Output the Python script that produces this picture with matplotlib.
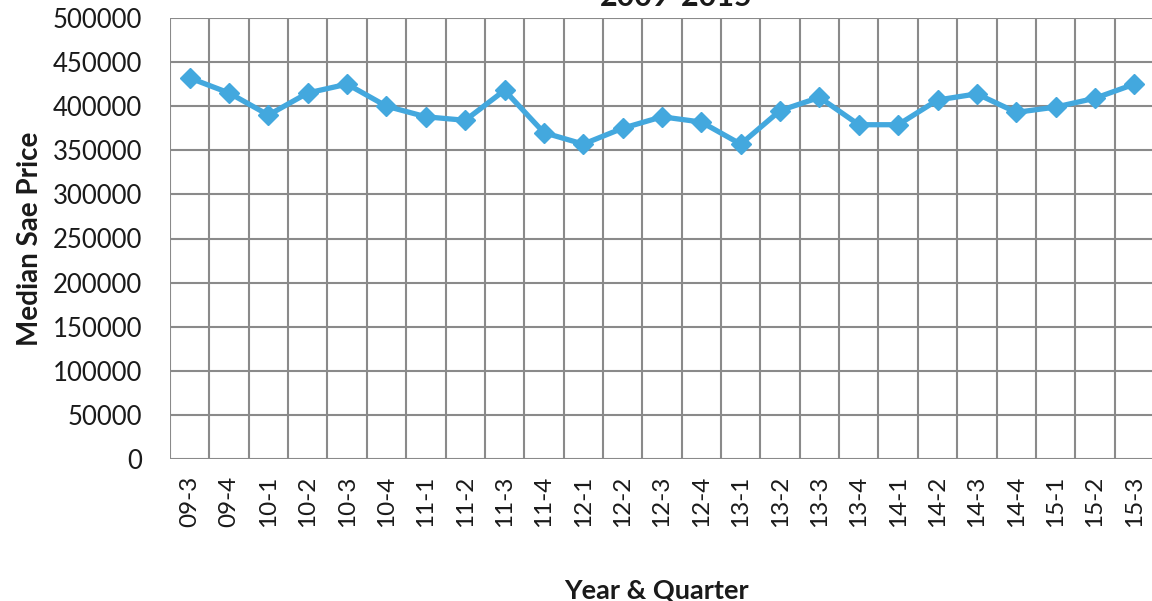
import matplotlib
matplotlib.use("Agg")
import matplotlib.pyplot as plt

# Median sale price by year and quarter
quarters = ["09-3", "09-4", "10-1", "10-2", "10-3", "10-4", "11-1", "11-2", "11-3",
            "11-4", "12-1", "12-2", "12-3", "12-4", "13-1", "13-2", "13-3", "13-4",
            "14-1", "14-2", "14-3", "14-4", "15-1", "15-2", "15-3"]
median_price = [432000, 415000, 390000, 415000, 425000, 400000, 388000, 384000, 418000,
                370000, 357000, 375000, 388000, 382000, 357000, 395000, 410000, 379000,
                379000, 407000, 414000, 393000, 399000, 409000, 425000]
y_ticks = [0, 50000, 100000, 150000, 200000, 250000, 300000, 350000, 400000, 450000, 500000]

plt.rcParams['font.family'] = ['Lato', 'DejaVu Sans']

W, H = 1152, 601
fig = plt.figure(figsize=(W / 100, H / 100), dpi=100)
ax = fig.add_axes([170 / W, (H - 459) / H, (1154 - 170) / W, (459 - 18) / H])

x = list(range(len(quarters)))
line_color = "#43a8de"
ax.plot(x, median_price, color=line_color, lw=3.8, marker="D", ms=10.5,
        mec=line_color, mfc=line_color, solid_joinstyle="miter", zorder=3)

ax.set_xlim(-0.5, len(quarters) - 0.5)
ax.set_ylim(0, 500000)
ax.set_yticks(y_ticks)
ax.set_yticklabels([str(v) for v in y_ticks])
ax.set_xticks(x)
ax.set_xticklabels(quarters, rotation=90)

# grid: horizontal at value ticks, vertical at category boundaries
grid_color = "#8a8a8a"
for v in y_ticks:
    ax.axhline(v, color=grid_color, lw=1.5, zorder=1)
for b in range(len(quarters) + 1):
    ax.axvline(b - 0.5, color=grid_color, lw=1.5, zorder=1)

for s in ax.spines.values():
    s.set_visible(False)

ax.tick_params(axis="y", length=0, pad=20, labelsize=18.5, colors="#1a1a1a")
ax.tick_params(axis="x", length=0, pad=12, labelsize=17.5, colors="#1a1a1a")

ax.set_ylabel("Median Sae Price", fontsize=20, fontweight="bold", color="#1a1a1a")
ax.yaxis.set_label_coords(-(170 - 30) / (1154 - 170), 0.5)
ax.yaxis.label.set_va("center")
fig.text(656 / W, (H - 590) / H, "Year & Quarter", ha="center", va="center",
         fontsize=19.5, fontweight="bold", color="#1a1a1a")
fig.text(676 / W, 1 - 6 / H, "2009-2015", ha="center", va="baseline",
         fontsize=22, fontweight="bold", color="#1a1a1a")

fig.savefig("out.png", dpi=100, facecolor="white")
